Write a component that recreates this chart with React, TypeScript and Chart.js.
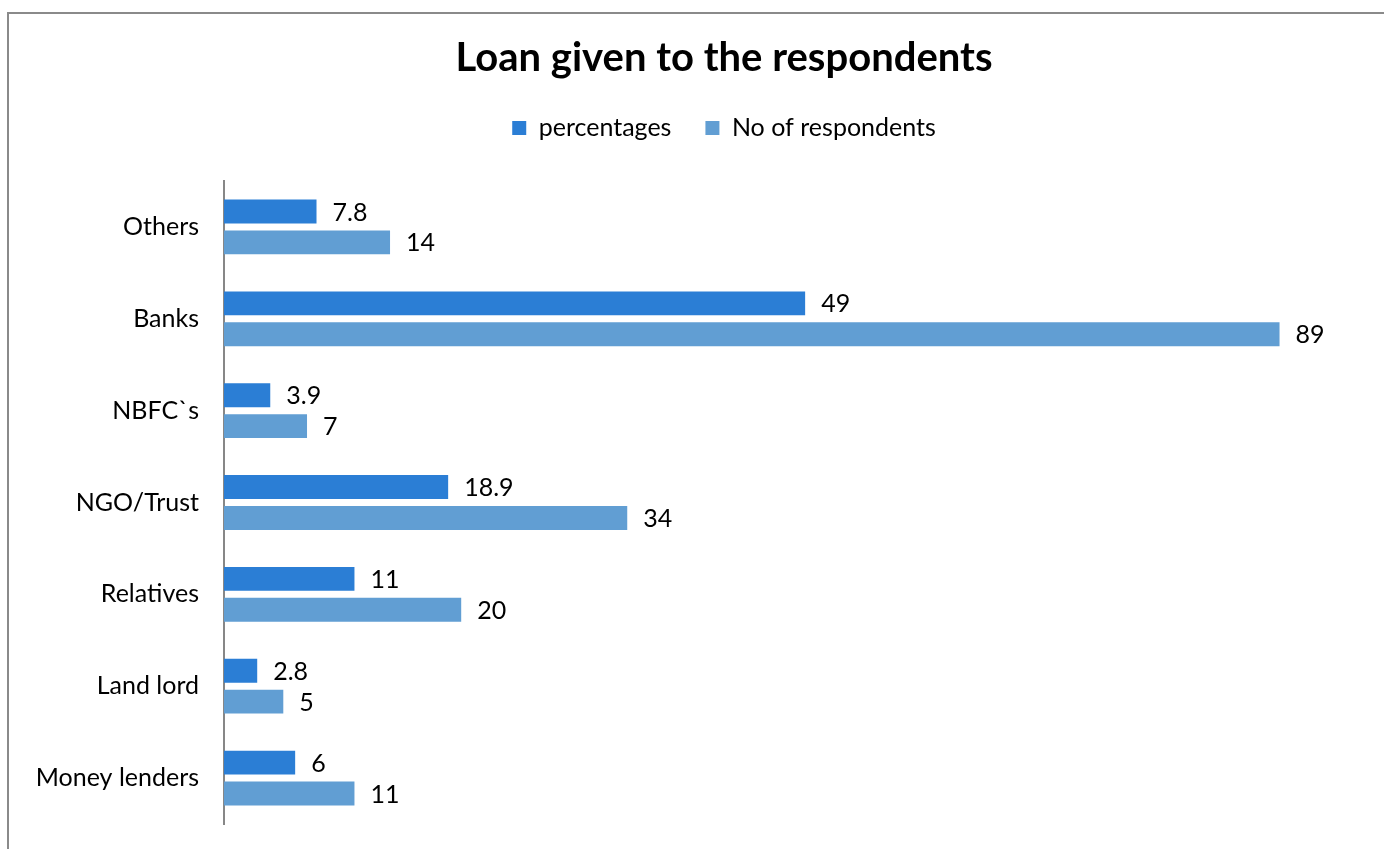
import React, { useEffect, useRef } from "react";
import { Chart, registerables } from "chart.js";
Chart.register(...registerables);

const categories = ["Others", "Banks", "NBFC`s", "NGO/Trust", "Relatives", "Land lord", "Money lenders"];
const percentages = [7.8, 49, 3.9, 18.9, 11, 2.8, 6];
const respondents = [14, 89, 7, 34, 20, 5, 11];
const seriesNames = ["percentages", "No of respondents"];
const titleText = "Loan given to the respondents";

const FONT = "Lato, 'Open Sans', sans-serif";
const DARK = "#2B7ED5";
const LIGHT = "#619ED3";

const valueLabels = {
  id: "valueLabels",
  afterDatasetsDraw(chart: any) {
    const ctx = chart.ctx;
    ctx.save();
    ctx.font = `25px ${FONT}`;
    ctx.fillStyle = "#000";
    ctx.textAlign = "left";
    ctx.textBaseline = "middle";
    chart.data.datasets.forEach((ds: any, di: number) => {
      const meta = chart.getDatasetMeta(di);
      meta.data.forEach((el: any, i: number) => {
        ctx.fillText(String(ds.data[i]), el.x + 16, el.y + 1);
      });
    });
    ctx.restore();
  },
};

export default function App() {
  const ref = useRef<HTMLCanvasElement | null>(null);
  useEffect(() => {
    if (!ref.current) return;
    const chart = new Chart(ref.current, {
      type: "bar",
      data: {
        labels: categories,
        datasets: [
          {
            label: seriesNames[0],
            data: percentages,
            backgroundColor: DARK,
            categoryPercentage: 0.672,
            barPercentage: 0.774,
          },
          {
            label: seriesNames[1],
            data: respondents,
            backgroundColor: LIGHT,
            categoryPercentage: 0.672,
            barPercentage: 0.774,
          },
        ],
      },
      options: {
        indexAxis: "y",
        responsive: false,
        animation: false,
        devicePixelRatio: 1,
        layout: { padding: { left: 29, right: 29, top: 0, bottom: 37 } },
        plugins: {
          title: {
            display: true,
            text: titleText,
            color: "#000",
            font: { family: FONT, size: 40, weight: "bold", lineHeight: 1.2 },
            padding: { top: 20, bottom: -0.5 },
          },
          legend: {
            position: "top",
            labels: {
              boxWidth: 14,
              boxHeight: 14,
              padding: 34,
              color: "#000",
              font: { family: FONT, size: 25 },
            },
          },
          tooltip: { enabled: false },
        },
        scales: {
          x: {
            position: "top",
            min: 0,
            max: 100,
            ticks: { display: false },
            grid: { display: false },
            border: { display: false },
            afterFit(s: any) {
              s.height = 30.5;
            },
          },
          y: {
            grid: { display: false, drawTicks: false },
            border: { display: true, color: "#878787", width: 2 },
            ticks: { color: "#000", font: { family: FONT, size: 25 }, padding: 25 },
            afterFit(s: any) {
              s.width = 186;
            },
          },
        },
      },
      plugins: [valueLabels],
    } as any);
    return () => chart.destroy();
  }, []);

  return (
    <div style={{ position: "relative", width: 1384, height: 849, overflow: "hidden", background: "#fff" }}>
      <style>{`body{margin:0}`}</style>
      <div
        style={{
          position: "absolute",
          left: 7,
          top: 12,
          width: 1436,
          height: 900,
          border: "2px solid #8a8a8a",
          boxSizing: "border-box",
          background: "#fff",
        }}
      >
        <canvas ref={ref} width={1430} height={850} style={{ display: "block" }} />
      </div>
    </div>
  );
}
